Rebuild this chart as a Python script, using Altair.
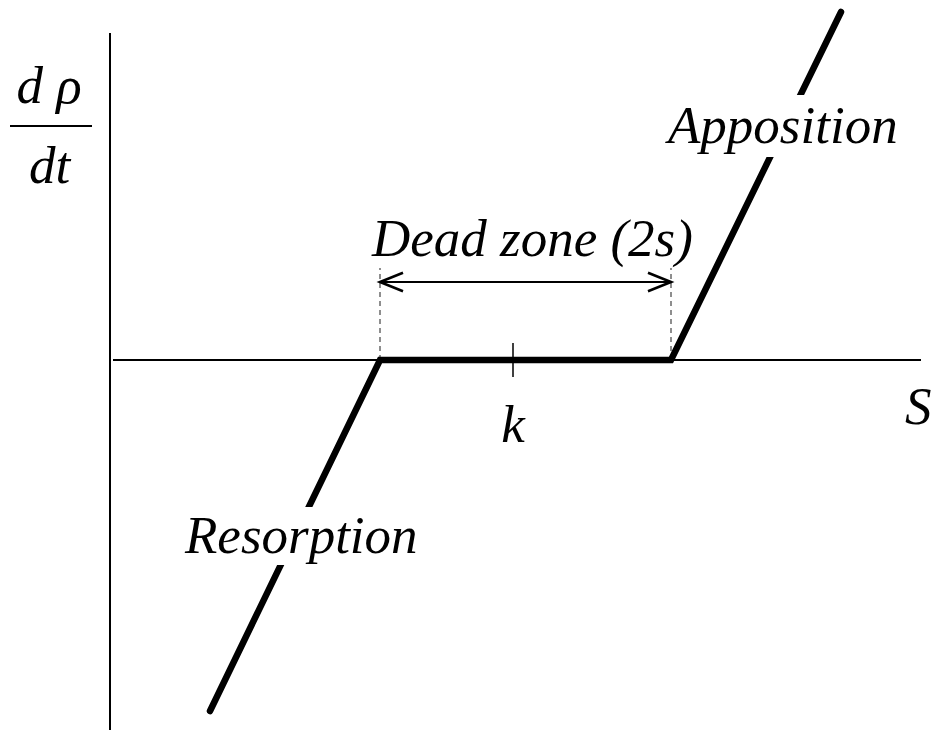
import altair as alt
import pandas as pd

# Stimulus S on the horizontal axis, remodelling rate d(rho)/dt on the vertical axis
S_RANGE = [-11.0, 82.4]
RATE_RANGE = [-37.2, 36.0]

# Piecewise-linear remodelling response: resorption, dead zone, apposition
resp_s = [10.0, 27.0, 56.1, 73.1]
resp_rate = [-35.1, 0.0, 0.0, 34.8]

# Axes drawn as plain lines
axis_s = [0.3, 81.1]
axis_rate = [-37.0, 32.7]

# Dead zone bounds and reference stimulus k
dead_lo, dead_hi = 27.0, 56.1
dead_top = 9.2
arrow_level = 7.8
k_value = 40.3
k_tick = 1.7

# Text labels: text, s, rate, align
label_text = ["Dead zone (2s)", "Apposition", "Resorption", "S", "k", "d ρ", "dt"]
label_s = [26.2, 55.8, 7.5, 79.5, 40.3, -6.1, -6.05]
label_rate = [10.4, 21.7, -19.3, -6.4, -8.2, 25.7, 17.7]
label_align = ["left", "left", "left", "left", "center", "center", "center"]

# White knock-out boxes behind the curve labels
box_s = [55.0, 6.8]
box_s2 = [80.5, 31.5]
box_rate = [20.3, -20.5]
box_rate2 = [26.5, -14.7]

# Fraction bar of d(rho)/dt
frac_s = [-10.0, -1.8]
frac_rate = 23.4

xs = alt.Scale(domain=S_RANGE, nice=False, zero=False)
ys = alt.Scale(domain=RATE_RANGE, nice=False, zero=False)

FONT = "Liberation Serif"

response = pd.DataFrame({"s": resp_s, "rate": resp_rate, "order": range(len(resp_s))})
line = alt.Chart(response).mark_line(
    color="black", strokeWidth=6.5, strokeCap="round", strokeJoin="miter"
).encode(
    x=alt.X("s:Q", scale=xs, axis=None),
    y=alt.Y("rate:Q", scale=ys, axis=None),
    order="order:Q",
)

axes_df = pd.DataFrame({
    "x": [axis_s[0], 0.0],
    "x2": [axis_s[1], 0.0],
    "y": [0.0, axis_rate[0]],
    "y2": [0.0, axis_rate[1]],
})
axes = alt.Chart(axes_df).mark_rule(color="black", strokeWidth=2).encode(
    x=alt.X("x:Q", scale=xs, axis=None), x2="x2:Q",
    y=alt.Y("y:Q", scale=ys, axis=None), y2="y2:Q",
)

dash_df = pd.DataFrame({"x": [dead_lo, dead_hi], "y": [0.0, 0.0], "y2": [dead_top, dead_top]})
dashes = alt.Chart(dash_df).mark_rule(
    color="#444", strokeWidth=1.2, strokeDash=[5, 4]
).encode(
    x=alt.X("x:Q", scale=xs, axis=None),
    y=alt.Y("y:Q", scale=ys, axis=None), y2="y2:Q",
)

tick_df = pd.DataFrame({"x": [k_value], "y": [-k_tick], "y2": [k_tick]})
tick = alt.Chart(tick_df).mark_rule(color="black", strokeWidth=1.5).encode(
    x=alt.X("x:Q", scale=xs, axis=None),
    y=alt.Y("y:Q", scale=ys, axis=None), y2="y2:Q",
)

arrow_df = pd.DataFrame({"x": [dead_lo], "x2": [dead_hi], "y": [arrow_level]})
arrow = alt.Chart(arrow_df).mark_rule(color="black", strokeWidth=2).encode(
    x=alt.X("x:Q", scale=xs, axis=None), x2="x2:Q",
    y=alt.Y("y:Q", scale=ys, axis=None),
)

head_df = pd.DataFrame({"x": [dead_lo, dead_hi], "y": [arrow_level, arrow_level], "angle": [0, 180]})
heads = alt.Chart(head_df).mark_point(
    shape="M1,-0.4L0,0L1,0.4", filled=False, color="black",
    strokeWidth=2.6, size=2116, opacity=1, strokeJoin="miter",
).encode(
    x=alt.X("x:Q", scale=xs, axis=None),
    y=alt.Y("y:Q", scale=ys, axis=None),
    angle=alt.Angle("angle:Q", scale=None),
)

frac_df = pd.DataFrame({"x": [frac_s[0]], "x2": [frac_s[1]], "y": [frac_rate]})
frac = alt.Chart(frac_df).mark_rule(color="black", strokeWidth=2.2).encode(
    x=alt.X("x:Q", scale=xs, axis=None), x2="x2:Q",
    y=alt.Y("y:Q", scale=ys, axis=None),
)

box_df = pd.DataFrame({"x": box_s, "x2": box_s2, "y": box_rate, "y2": box_rate2})
boxes = alt.Chart(box_df).mark_rect(color="white", opacity=1).encode(
    x=alt.X("x:Q", scale=xs, axis=None), x2="x2:Q",
    y=alt.Y("y:Q", scale=ys, axis=None), y2="y2:Q",
)

labels_df = pd.DataFrame({"text": label_text, "s": label_s, "rate": label_rate, "align": label_align})
text_layers = []
for al in ["left", "center"]:
    text_layers.append(
        alt.Chart(labels_df[labels_df["align"] == al]).mark_text(
            font=FONT, fontStyle="italic", fontSize=53, color="black",
            align=al, baseline="alphabetic",
        ).encode(
            x=alt.X("s:Q", scale=xs, axis=None),
            y=alt.Y("rate:Q", scale=ys, axis=None),
            text="text:N",
        )
    )

chart = alt.layer(axes, dashes, tick, arrow, heads, frac, line, boxes, *text_layers).properties(
    width=934, height=732, autosize=alt.AutoSizeParams(type="none"), padding=0,
    background="white",
).configure_view(stroke=None)

chart.save("out.html", embed_options={"renderer": "svg", "actions": False})
